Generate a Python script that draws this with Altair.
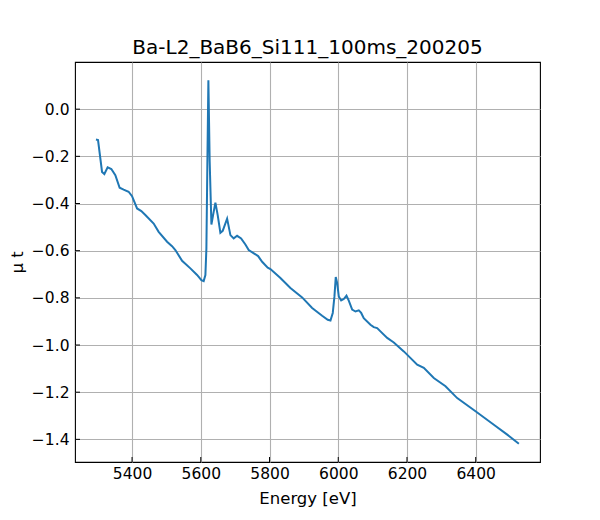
import altair as alt
import pandas as pd

TITULO = "Ba-L2_BaB6_Si111_100ms_200205"

energia = [
    5295, 5301, 5312.7, 5319.4, 5329, 5339.7, 5351.4, 5363.9, 5375.5, 5390,
    5400, 5414.6, 5427, 5438.7, 5462.9, 5477.4, 5501.9, 5516.4, 5526, 5545.6,
    5569.7, 5589.2, 5601.7, 5608.4, 5613.4, 5616.3, 5619.2, 5622.1, 5625.9, 5630.9,
    5635.8, 5642.5, 5649.2, 5657, 5663.8, 5676.6, 5686.2, 5695.8, 5705.7, 5717.3,
    5729.8, 5739.4, 5766.8, 5778.5, 5794.8, 5802.6, 5831.7, 5860.8, 5894.9, 5924,
    5953.1, 5969.4, 5977.3, 5984, 5988.9, 5992.7, 5996.8, 6001.5, 6008.4, 6016,
    6023.9, 6030.6, 6040.5, 6050.1, 6059.7, 6066.7, 6074.2, 6093.7, 6103.3, 6113.2,
    6122.8, 6142.4, 6161.6, 6190.7, 6229.7, 6248.9, 6278, 6312.1, 6346.1, 6399.4,
    6452.7, 6491.7, 6525.5,
]
mu_t = [
    -0.129, -0.131, -0.266, -0.275, -0.247, -0.254, -0.280, -0.333, -0.341, -0.350,
    -0.369, -0.421, -0.432, -0.449, -0.485, -0.520, -0.562, -0.581, -0.597, -0.643,
    -0.675, -0.703, -0.725, -0.729, -0.703, -0.591, -0.223, 0.123, -0.223, -0.489,
    -0.449, -0.396, -0.449, -0.524, -0.516, -0.464, -0.534, -0.548, -0.537, -0.548,
    -0.574, -0.597, -0.623, -0.647, -0.672, -0.678, -0.716, -0.758, -0.798, -0.843,
    -0.876, -0.893, -0.896, -0.864, -0.794, -0.712, -0.737, -0.794, -0.811, -0.805,
    -0.791, -0.812, -0.850, -0.858, -0.853, -0.864, -0.886, -0.914, -0.924, -0.928,
    -0.942, -0.970, -0.989, -1.027, -1.083, -1.097, -1.140, -1.175, -1.225, -1.281,
    -1.338, -1.380, -1.419,
]
ticks_x = [5400, 5600, 5800, 6000, 6200, 6400]
ticks_y = [0.0, -0.2, -0.4, -0.6, -0.8, -1.0, -1.2, -1.4]

ANCHO, ALTO = 465, 400
FUENTE = "DejaVu Sans"

escala_x = alt.Scale(domain=[5234, 6587], nice=False, zero=False)
escala_y = alt.Scale(domain=[-1.496, 0.200], nice=False, zero=False)

df = pd.DataFrame({"energia": energia, "mu": mu_t})
df_tx = pd.DataFrame({"t": ticks_x})
df_ty = pd.DataFrame({"t": ticks_y})

eje_x = alt.Axis(
    values=ticks_x, format="d", title="Energy [eV]", tickSize=0, labelPadding=4,
    titlePadding=9, grid=True, gridColor="#b0b0b0", gridWidth=1.1, domain=False,
)
eje_y = alt.Axis(
    values=ticks_y, format=".1f", title="μ t", tickSize=0, labelPadding=6,
    titlePadding=6, grid=True, gridColor="#b0b0b0", gridWidth=1.1, domain=False,
)

linea = alt.Chart(df).mark_line(color="#1f77b4", strokeWidth=2).encode(
    x=alt.X("energia:Q", scale=escala_x, axis=eje_x),
    y=alt.Y("mu:Q", scale=escala_y, axis=eje_y),
    order="energia:Q",
)

# marcas de graduación hacia dentro, como en matplotlib
marcas_x = alt.Chart(df_tx).mark_rule(color="black", strokeWidth=1).encode(
    x=alt.X("t:Q", scale=escala_x),
    y=alt.value(ALTO),
    y2=alt.value(ALTO - 5),
)
marcas_y = alt.Chart(df_ty).mark_rule(color="black", strokeWidth=1).encode(
    y=alt.Y("t:Q", scale=escala_y),
    x=alt.value(0),
    x2=alt.value(5),
)

chart = (
    alt.layer(linea, marcas_x, marcas_y)
    .properties(
        width=ANCHO,
        height=ALTO,
        title=alt.TitleParams(TITULO, fontSize=20, font=FUENTE, fontWeight="normal", offset=4),
        autosize=alt.AutoSizeParams(type="none"),
        padding={"left": 67, "top": 54, "right": 52, "bottom": 50},
    )
    .configure_view(stroke="black", strokeWidth=1.1)
    .configure_axis(
        labelFont=FUENTE, titleFont=FUENTE, labelFontSize=15.5, titleFontSize=16.5,
        titleFontWeight="normal", labelColor="black", titleColor="black",
    )
)

chart.save("out.html", embed_options={"renderer": "svg", "actions": False})
